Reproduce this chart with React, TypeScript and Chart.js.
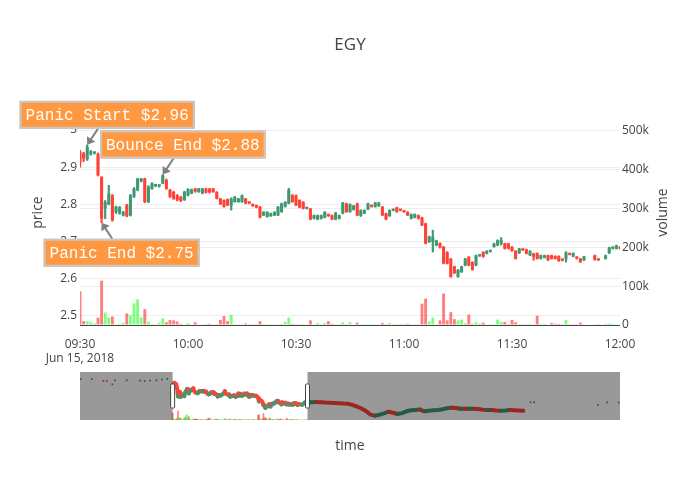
import React, { useEffect, useRef } from 'react';
import { Chart, registerables } from 'chart.js';

Chart.register(...registerables);

// one-minute candles, 09:30 - 12:00
const times = [
  '09:30', '09:31', '09:32', '09:33', '09:34', '09:35', '09:36', '09:37', '09:38', '09:39',
  '09:40', '09:41', '09:42', '09:43', '09:44', '09:45', '09:46', '09:47', '09:48', '09:49',
  '09:50', '09:51', '09:52', '09:53', '09:54', '09:55', '09:56', '09:57', '09:58', '09:59',
  '10:00', '10:01', '10:02', '10:03', '10:04', '10:05', '10:06', '10:07', '10:08', '10:09',
  '10:10', '10:11', '10:12', '10:13', '10:14', '10:15', '10:16', '10:17', '10:18', '10:19',
  '10:20', '10:21', '10:22', '10:23', '10:24', '10:25', '10:26', '10:27', '10:28', '10:29',
  '10:30', '10:31', '10:32', '10:33', '10:34', '10:35', '10:36', '10:37', '10:38', '10:39',
  '10:40', '10:41', '10:42', '10:43', '10:44', '10:45', '10:46', '10:47', '10:48', '10:49',
  '10:50', '10:51', '10:52', '10:53', '10:54', '10:55', '10:56', '10:57', '10:58', '10:59',
  '11:00', '11:01', '11:02', '11:03', '11:04', '11:05', '11:06', '11:07', '11:08', '11:09',
  '11:10', '11:11', '11:12', '11:13', '11:14', '11:15', '11:16', '11:17', '11:18', '11:19',
  '11:20', '11:21', '11:22', '11:23', '11:24', '11:25', '11:26', '11:27', '11:28', '11:29',
  '11:30', '11:31', '11:32', '11:33', '11:34', '11:35', '11:36', '11:37', '11:38', '11:39',
  '11:40', '11:41', '11:42', '11:43', '11:44', '11:45', '11:46', '11:47', '11:48', '11:49', '11:50',
  '11:53', '11:54',
  '11:56', '11:57', '11:58', '11:59', '12:00',
];

const openPrices = [
  2.941, 2.937, 2.921, 2.935, 2.937, 2.935, 2.874, 2.788, 2.800, 2.824,
  2.779, 2.775, 2.770, 2.797, 2.770, 2.820, 2.838, 2.862, 2.869, 2.806,
  2.842, 2.849, 2.848, 2.856, 2.865, 2.838, 2.833, 2.824, 2.820, 2.811,
  2.824, 2.829, 2.842, 2.833, 2.829, 2.842, 2.842, 2.842, 2.833, 2.815,
  2.811, 2.813, 2.797, 2.806, 2.806, 2.806, 2.815, 2.806, 2.800, 2.797,
  2.793, 2.770, 2.766, 2.768, 2.770, 2.770, 2.779, 2.793, 2.802, 2.824,
  2.824, 2.811, 2.806, 2.788, 2.788, 2.761, 2.759, 2.761, 2.764, 2.773,
  2.770, 2.759, 2.761, 2.775, 2.802, 2.779, 2.785, 2.802, 2.768, 2.775,
  2.786, 2.797, 2.793, 2.795, 2.793, 2.775, 2.768, 2.783, 2.791, 2.785,
  2.781, 2.779, 2.761, 2.764, 2.770, 2.764, 2.748, 2.698, 2.698, 2.689,
  2.695, 2.685, 2.671, 2.653, 2.632, 2.604, 2.617, 2.635, 2.658, 2.644,
  2.635, 2.660, 2.671, 2.667, 2.672, 2.685, 2.689, 2.694, 2.694, 2.694,
  2.685, 2.674, 2.668, 2.678, 2.678, 2.662, 2.667, 2.668, 2.653, 2.656,
  2.662, 2.662, 2.660, 2.660, 2.652, 2.652, 2.666, 2.659, 2.658, 2.653, 2.649,
  2.662, 2.651,
  2.653, 2.668, 2.680, 2.680, 2.685,
];

const highPrices = [
  2.945, 2.940, 2.960, 2.945, 2.941, 2.938, 2.874, 2.810, 2.851, 2.826,
  2.795, 2.794, 2.781, 2.800, 2.826, 2.845, 2.870, 2.870, 2.870, 2.850,
  2.858, 2.854, 2.853, 2.880, 2.868, 2.840, 2.835, 2.826, 2.821, 2.835,
  2.842, 2.841, 2.843, 2.843, 2.843, 2.843, 2.843, 2.843, 2.834, 2.816,
  2.812, 2.814, 2.817, 2.821, 2.816, 2.825, 2.816, 2.807, 2.801, 2.798,
  2.794, 2.780, 2.780, 2.776, 2.780, 2.794, 2.803, 2.807, 2.843, 2.826,
  2.825, 2.812, 2.807, 2.791, 2.789, 2.771, 2.771, 2.771, 2.780, 2.774,
  2.771, 2.778, 2.771, 2.805, 2.803, 2.801, 2.797, 2.803, 2.785, 2.785,
  2.803, 2.798, 2.805, 2.805, 2.794, 2.776, 2.785, 2.786, 2.792, 2.786,
  2.782, 2.780, 2.774, 2.774, 2.771, 2.765, 2.749, 2.714, 2.730, 2.703,
  2.696, 2.686, 2.672, 2.654, 2.633, 2.624, 2.633, 2.654, 2.659, 2.645,
  2.663, 2.663, 2.672, 2.675, 2.675, 2.695, 2.704, 2.710, 2.695, 2.695,
  2.686, 2.675, 2.681, 2.679, 2.679, 2.675, 2.668, 2.669, 2.663, 2.663,
  2.663, 2.663, 2.661, 2.661, 2.653, 2.672, 2.667, 2.669, 2.659, 2.654, 2.660,
  2.663, 2.652,
  2.663, 2.684, 2.686, 2.690, 2.686,
];

const lowPrices = [
  2.900, 2.915, 2.918, 2.932, 2.935, 2.876, 2.750, 2.761, 2.798, 2.754,
  2.775, 2.773, 2.768, 2.766, 2.768, 2.818, 2.836, 2.860, 2.804, 2.804,
  2.840, 2.847, 2.846, 2.855, 2.840, 2.818, 2.813, 2.809, 2.807, 2.810,
  2.822, 2.828, 2.832, 2.832, 2.828, 2.830, 2.830, 2.832, 2.814, 2.799,
  2.792, 2.796, 2.784, 2.805, 2.805, 2.805, 2.801, 2.801, 2.794, 2.790,
  2.763, 2.769, 2.765, 2.767, 2.769, 2.769, 2.778, 2.792, 2.801, 2.805,
  2.796, 2.790, 2.787, 2.787, 2.758, 2.760, 2.758, 2.760, 2.763, 2.767,
  2.758, 2.758, 2.760, 2.774, 2.778, 2.778, 2.784, 2.769, 2.767, 2.774,
  2.785, 2.792, 2.792, 2.794, 2.769, 2.758, 2.767, 2.782, 2.778, 2.782,
  2.778, 2.769, 2.760, 2.763, 2.760, 2.742, 2.693, 2.697, 2.671, 2.688,
  2.682, 2.639, 2.639, 2.603, 2.613, 2.603, 2.616, 2.634, 2.634, 2.622,
  2.634, 2.659, 2.657, 2.666, 2.671, 2.684, 2.688, 2.690, 2.679, 2.679,
  2.673, 2.652, 2.667, 2.675, 2.666, 2.661, 2.649, 2.652, 2.652, 2.655,
  2.648, 2.652, 2.652, 2.646, 2.647, 2.644, 2.663, 2.658, 2.652, 2.643, 2.648,
  2.649, 2.648,
  2.652, 2.667, 2.679, 2.679, 2.679,
];

const closePrices = [
  2.912, 2.923, 2.955, 2.942, 2.939, 2.878, 2.762, 2.806, 2.829, 2.757,
  2.793, 2.792, 2.779, 2.768, 2.824, 2.842, 2.869, 2.869, 2.806, 2.847,
  2.856, 2.852, 2.852, 2.878, 2.842, 2.820, 2.815, 2.811, 2.809, 2.833,
  2.840, 2.840, 2.834, 2.842, 2.842, 2.831, 2.832, 2.833, 2.815, 2.800,
  2.793, 2.797, 2.815, 2.820, 2.815, 2.824, 2.802, 2.802, 2.795, 2.791,
  2.764, 2.779, 2.779, 2.775, 2.779, 2.793, 2.802, 2.806, 2.838, 2.806,
  2.797, 2.791, 2.788, 2.790, 2.759, 2.770, 2.770, 2.770, 2.779, 2.768,
  2.759, 2.777, 2.770, 2.804, 2.779, 2.800, 2.796, 2.770, 2.784, 2.784,
  2.802, 2.793, 2.804, 2.804, 2.770, 2.759, 2.784, 2.785, 2.779, 2.783,
  2.779, 2.770, 2.773, 2.773, 2.761, 2.743, 2.694, 2.713, 2.712, 2.702,
  2.683, 2.640, 2.640, 2.604, 2.614, 2.623, 2.632, 2.653, 2.635, 2.623,
  2.662, 2.662, 2.658, 2.674, 2.674, 2.694, 2.703, 2.703, 2.680, 2.680,
  2.674, 2.653, 2.680, 2.676, 2.667, 2.674, 2.658, 2.653, 2.662, 2.662,
  2.649, 2.653, 2.653, 2.647, 2.648, 2.670, 2.664, 2.668, 2.653, 2.644, 2.659,
  2.650, 2.649,
  2.662, 2.683, 2.685, 2.689, 2.680,
];

const volumes = [
  87000, 10000, 10000, 7000, 4000, 19000, 114000, 32000, 19000, 22000,
  2000, 3000, 6000, 30000, 25000, 56000, 66000, 20000, 41000, 9000,
  3000, 2000, 6000, 17000, 7000, 13000, 12000, 9000, 3000, 1000,
  5000, 1000, 7000, 1000, 1000, 500, 3000, 1000, 2000, 13000,
  23000, 10000, 26000, 2000, 500, 500, 4000, 2000, 2000, 2000,
  10000, 500, 500, 500, 2000, 500, 3000, 8000, 19000, 3000,
  2000, 2000, 2000, 500, 12000, 500, 5000, 500, 5000, 10000,
  3000, 500, 500, 7000, 2000, 7000, 1000, 6000, 2000, 500,
  2000, 500, 500, 500, 5000, 500, 5000, 500, 500, 500,
  500, 3000, 500, 500, 500, 55000, 68000, 9000, 19000, 500,
  12000, 81000, 12000, 33000, 15000, 12000, 14000, 5000, 27000, 3000,
  7000, 4000, 6000, 2000, 2000, 2000, 14000, 8000, 8000, 2000,
  13000, 7000, 500, 500, 500, 3000, 1000, 24000, 3000, 3000,
  1000, 5000, 3000, 3000, 500, 13000, 500, 500, 500, 6000, 500,
  1000, 500,
  3000, 4000, 3000, 2000, 1000,
];

const volumeTicks = [0, 100000, 200000, 300000, 400000, 500000];

// rest of the session, only seen in the range slider
const afternoonTimes = [
  '12:05', '12:10', '12:15', '12:20', '12:25', '12:30', '12:35', '12:40', '12:45', '12:50',
  '12:55', '13:00', '13:05', '13:10', '13:15', '13:20', '13:25', '13:30', '13:35', '13:40',
  '13:45', '13:50', '13:55', '14:00', '14:05', '14:10', '14:15', '14:20', '14:25', '14:30',
  '14:35', '14:40', '14:45', '14:50', '14:55', '15:00', '15:05', '15:10', '15:15', '15:20',
  '15:25', '15:30', '15:35', '15:40', '15:45', '15:50', '15:55', '16:00',
];
const afternoonClose = [
  2.684, 2.686, 2.684, 2.678, 2.675, 2.672, 2.668, 2.664, 2.662, 2.645,
  2.620, 2.595, 2.560, 2.510, 2.495, 2.508, 2.528, 2.550, 2.536, 2.518,
  2.530, 2.556, 2.570, 2.575, 2.580, 2.556, 2.564, 2.570, 2.575, 2.584,
  2.598, 2.606, 2.602, 2.592, 2.592, 2.590, 2.592, 2.588, 2.578, 2.574,
  2.574, 2.566, 2.564, 2.568, 2.574, 2.570, 2.566, 2.562,
];

// stray pre-market / after-hours trades
const extraTimes = [
  '07:48', '08:00', '08:13', '08:17', '08:23', '08:26', '08:39', '08:54', '08:59',
  '09:05', '09:12', '09:18', '09:24', '16:08', '16:12', '17:23', '17:33', '17:46',
];
const extraPrices = [
  3.008, 3.008, 2.98, 2.98, 2.934, 2.99, 2.99, 2.985, 2.98,
  2.985, 2.99, 3.0, 3.01, 2.682, 2.682, 2.645, 2.68, 2.68,
];
const extraUp = [
  true, true, false, false, false, true, true, false, false,
  true, true, true, true, true, true, false, true, true,
];

const noteTimes = ['09:32', '09:53', '09:36'];
const notePrices = [2.96, 2.88, 2.75];
const noteLabels = ['Panic Start $2.96', 'Bounce End $2.88', 'Panic End $2.75'];
const noteOffsetY = [-30, -30, 30];

const GREEN = '#3D9970';
const RED = '#FF4136';
const VOL_UP = 'rgba(0,255,0,0.5)';
const VOL_DOWN = 'rgba(255,0,0,0.5)';
const FONT = '"Open Sans", "DejaVu Sans", sans-serif';

// minutes since 09:30
const toMinute = (t: string) => {
  const [h, m] = t.split(':').map(Number);
  return h * 60 + m - 570;
};
const toClock = (v: number) => {
  const total = 570 + v;
  const h = Math.floor(total / 60);
  const m = total % 60;
  return `${String(h).padStart(2, '0')}:${String(m).padStart(2, '0')}`;
};

const xs = times.map(toMinute);
const up = closePrices.map((c, i) => c >= openPrices[i]);

const textPlugin = {
  id: 'texts',
  afterDraw(chart: any) {
    const { ctx, scales } = chart;
    ctx.save();
    ctx.fillStyle = '#444';
    ctx.textAlign = 'center';
    ctx.textBaseline = 'middle';
    ctx.font = `17px ${FONT}`;
    ctx.fillText('EGY', 350, 45);
    ctx.font = `14px ${FONT}`;
    ctx.fillText('time', 350, 446);
    const midY = (chart.chartArea.top + chart.chartArea.bottom) / 2;
    [['price', 38], ['volume', 663]].forEach(([t, x]) => {
      ctx.save();
      ctx.translate(x as number, midY);
      ctx.rotate(-Math.PI / 2);
      ctx.fillText(t as string, 0, 0);
      ctx.restore();
    });

    // annotations
    ctx.font = '16px "Courier New", "Liberation Mono", monospace';
    noteLabels.forEach((text, i) => {
      const px = scales.x.getPixelForValue(toMinute(noteTimes[i]));
      const py = scales.y.getPixelForValue(notePrices[i]);
      const cx = px + 20;
      const cy = py + noteOffsetY[i];
      const w = ctx.measureText(text).width + 12;
      const h = 28;
      const vx = px - cx;
      const vy = py - cy;
      const s = Math.min(w / 2 / Math.abs(vx), h / 2 / Math.abs(vy));
      const sx = cx + vx * s;
      const sy = cy + vy * s;
      const len = Math.hypot(px - sx, py - sy);
      const ux = (px - sx) / len;
      const uy = (py - sy) / len;
      const head = 7;
      ctx.strokeStyle = '#808080';
      ctx.fillStyle = '#808080';
      ctx.lineWidth = 2;
      ctx.beginPath();
      ctx.moveTo(sx, sy);
      ctx.lineTo(px - ux * head * 0.8, py - uy * head * 0.8);
      ctx.stroke();
      ctx.beginPath();
      ctx.moveTo(px, py);
      ctx.lineTo(px - ux * head - uy * 5, py - uy * head + ux * 5);
      ctx.lineTo(px - ux * head + uy * 5, py - uy * head - ux * 5);
      ctx.closePath();
      ctx.fill();

      ctx.fillStyle = '#ff9840';
      ctx.fillRect(cx - w / 2, cy - h / 2, w, h);
      ctx.strokeStyle = '#c8c8c8';
      ctx.strokeRect(cx - w / 2 + 1, cy - h / 2 + 1, w - 2, h - 2);
      ctx.fillStyle = '#fff';
      ctx.fillText(text, cx, cy + 1);
    });
    ctx.restore();
  },
};

const sliderPlugin = {
  id: 'sliderMask',
  afterDatasetsDraw(chart: any) {
    const { ctx, chartArea: a, scales } = chart;
    const x0 = scales.x.getPixelForValue(0);
    const x1 = scales.x.getPixelForValue(150);
    ctx.save();
    ctx.fillStyle = 'rgba(0,0,0,0.4)';
    ctx.fillRect(a.left, a.top, x0 - a.left, a.bottom - a.top);
    ctx.fillRect(x1, a.top, a.right - x1, a.bottom - a.top);
    const hh = (a.bottom - a.top) / 2;
    [x0, x1].forEach((x) => {
      ctx.beginPath();
      ctx.roundRect(x - 2, a.top + hh / 2, 4, hh, 1);
      ctx.fillStyle = '#fff';
      ctx.fill();
      ctx.strokeStyle = '#444';
      ctx.lineWidth = 1;
      ctx.stroke();
    });
    ctx.restore();
  },
};

export default function App() {
  const mainRef = useRef<HTMLCanvasElement | null>(null);
  const sliderRef = useRef<HTMLCanvasElement | null>(null);

  useEffect(() => {
    if (!mainRef.current || !sliderRef.current) return;
    Chart.defaults.font.family = FONT;
    Chart.defaults.color = '#444';

    const candleColors = up.map((u) => (u ? GREEN : RED));
    const volColors = up.map((u) => (u ? VOL_UP : VOL_DOWN));
    const tickFont = { family: FONT, size: 12 };

    const main = new Chart(mainRef.current, {
      type: 'bar',
      data: {
        datasets: [
          {
            label: 'volume',
            data: xs.map((x, i) => ({ x, y: volumes[i] })),
            backgroundColor: volColors,
            yAxisID: 'yv',
            grouped: false,
            barPercentage: 0.8,
            categoryPercentage: 1,
            order: 3,
          },
          {
            label: 'wick',
            data: xs.map((x, i) => ({ x, y: [lowPrices[i], highPrices[i]] })),
            backgroundColor: candleColors,
            yAxisID: 'y',
            grouped: false,
            barThickness: 1.5,
            order: 2,
          },
          {
            label: 'body',
            data: xs.map((x, i) => ({ x, y: [openPrices[i], closePrices[i]] })),
            backgroundColor: candleColors,
            yAxisID: 'y',
            grouped: false,
            barPercentage: 0.85,
            categoryPercentage: 1,
            minBarLength: 2,
            order: 1,
          },
        ] as any,
      },
      options: {
        responsive: true,
        maintainAspectRatio: false,
        animation: false,
        events: [],
        layout: { padding: { top: 100, bottom: 130, left: 0, right: 0 } },
        plugins: { legend: { display: false }, tooltip: { enabled: false } },
        scales: {
          x: {
            type: 'linear',
            min: 0,
            max: 150,
            offset: false,
            grid: { display: false },
            border: { display: false },
            ticks: {
              stepSize: 30,
              autoSkip: false,
              maxRotation: 0,
              padding: 4,
              color: '#444',
              font: tickFont,
              callback: (v: any) => (v === 0 ? ['09:30', 'Jun 15, 2018'] : toClock(Number(v))),
            },
            afterFit: (s: any) => {
              s.height = 45;
            },
          },
          y: {
            position: 'left',
            min: 2.4744,
            max: 3.0809,
            grid: { color: '#eee', drawTicks: false },
            border: { display: false },
            ticks: {
              stepSize: 0.1,
              includeBounds: false,
              padding: 3,
              color: '#444',
              font: tickFont,
              callback: (v: any) => String(Math.round(Number(v) * 10) / 10),
            },
            afterFit: (s: any) => {
              s.width = 80;
            },
          },
          yv: {
            position: 'right',
            min: 0,
            max: 579000,
            grid: {
              color: (c: any) => (c.tick && c.tick.value === 0 ? '#444' : '#eee'),
              drawTicks: false,
            },
            border: { display: false },
            afterBuildTicks: (s: any) => {
              s.ticks = volumeTicks.map((value) => ({ value }));
            },
            ticks: {
              padding: 2,
              color: '#444',
              font: tickFont,
              callback: (v: any) => (Number(v) === 0 ? '0' : `${Number(v) / 1000}k`),
            },
            afterFit: (s: any) => {
              s.width = 80;
            },
          },
        } as any,
      },
      plugins: [textPlugin],
    });

    const sliderLine = [
      ...xs.map((x, i) => ({ x, y: closePrices[i] })),
      ...afternoonTimes.map((t, i) => ({ x: toMinute(t), y: afternoonClose[i] })),
    ];

    const slider = new Chart(sliderRef.current, {
      type: 'bar',
      data: {
        datasets: [
          {
            type: 'bar',
            data: xs.map((x, i) => ({ x, y: volumes[i] })),
            backgroundColor: volColors,
            yAxisID: 'yv',
            barThickness: 1,
            grouped: false,
            order: 3,
          },
          {
            type: 'line',
            data: sliderLine,
            yAxisID: 'y',
            borderWidth: 4,
            borderColor: GREEN,
            borderJoinStyle: 'round',
            borderCapStyle: 'round',
            pointRadius: 0,
            tension: 0,
            segment: {
              borderColor: (c: any) => (c.p1.parsed.y >= c.p0.parsed.y ? GREEN : RED),
            },
            order: 2,
          },
          {
            type: 'line',
            data: extraTimes.map((t, i) => ({ x: toMinute(t), y: extraPrices[i] })),
            yAxisID: 'y',
            showLine: false,
            pointStyle: 'rect',
            pointRadius: 1.2,
            pointBorderWidth: 0,
            pointBackgroundColor: extraUp.map((u) => (u ? GREEN : RED)),
            order: 1,
          },
        ] as any,
      },
      options: {
        responsive: true,
        maintainAspectRatio: false,
        animation: false,
        events: [],
        layout: { padding: 0, autoPadding: false },
        plugins: { legend: { display: false }, tooltip: { enabled: false } },
        scales: {
          x: { type: 'linear', display: false, min: -103, max: 497.5, offset: false },
          y: { display: false, min: 2.434, max: 3.106 },
          yv: { display: false, min: 0, max: 600000 },
        } as any,
      },
      plugins: [sliderPlugin],
    });

    return () => {
      main.destroy();
      slider.destroy();
    };
  }, []);

  return (
    <div style={{ position: 'absolute', left: 0, top: 0, width: 700, height: 500, background: '#fff' }}>
      <div style={{ position: 'absolute', left: 0, top: 0, width: 700, height: 500 }}>
        <canvas ref={mainRef} />
      </div>
      <div style={{ position: 'absolute', left: 80, top: 372, width: 540, height: 48 }}>
        <canvas ref={sliderRef} />
      </div>
    </div>
  );
}
